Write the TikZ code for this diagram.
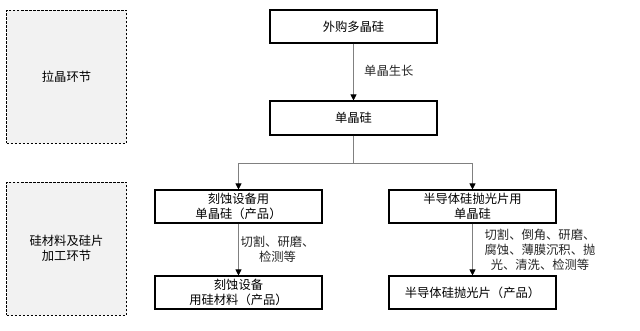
\documentclass[tikz,border=0pt]{standalone}
\usepackage{fontspec}
\setmainfont{Noto Sans CJK SC}
\usetikzlibrary{arrows.meta}
\definecolor{stagefill}{HTML}{F2F2F2}
\definecolor{linkgray}{HTML}{808080}
\begin{document}
\begin{tikzpicture}[x=1pt,y=-1pt,
  every node/.style={font=\fontsize{12.3}{15}\selectfont, inner sep=0pt, align=center},
  stagebox/.style={draw=black, fill=stagefill, line width=0.9pt, dash pattern=on 2.5pt off 1.5pt, minimum width=120pt, minimum height=133pt},
  procbox/.style={draw=black, line width=1.1pt, minimum width=167pt, minimum height=33pt},
  link/.style={draw=linkgray, line width=0.8pt},
  linkarrow/.style={link, -{Triangle[length=6pt,width=6pt,fill=black,color=black]}},
  steplabel/.style={text=black!85}
]
\useasboundingbox (0,0) rectangle (640,330);
\node[stagebox] (s1) at (66.5,76.5) {拉晶环节};
\node[stagebox] (s2) at (66.5,248.5) {硅材料及硅片\\加工环节};

\node[procbox] (a) at (353.5,26.5) {外购多晶硅};
\node[procbox, minimum height=34pt] (b) at (353.5,118) {单晶硅};
\node[procbox] (l3) at (238.5,206.5) {刻蚀设备用\\单晶硅（产品）};
\node[procbox] (l4) at (238.5,292.5) {刻蚀设备\\用硅材料（产品）};
\node[procbox] (r3) at (472.5,206.5) {半导体硅抛光片用\\单晶硅};
\node[procbox] (r4) at (472.5,292.5) {半导体硅抛光片（产品）};

\coordinate (j) at (353.5,163);
\draw[linkarrow] (a) -- (b);
\draw[link] (b) -- (j);
\draw[linkarrow] (j) -| (l3);
\draw[linkarrow] (j) -| (r3);
\draw[linkarrow] (l3) -- (l4);
\draw[linkarrow] (r3) -- (r4);

\node[steplabel, anchor=west] (t1) at (364,71) {单晶生长};
\node[steplabel] (t2) at (277.5,249.5) {切割、研磨、\\检测等};
\node[steplabel] (t3) at (540,249.5) {切割、倒角、研磨、\\腐蚀、薄膜沉积、抛\\光、清洗、检测等};
\end{tikzpicture}
\end{document}
